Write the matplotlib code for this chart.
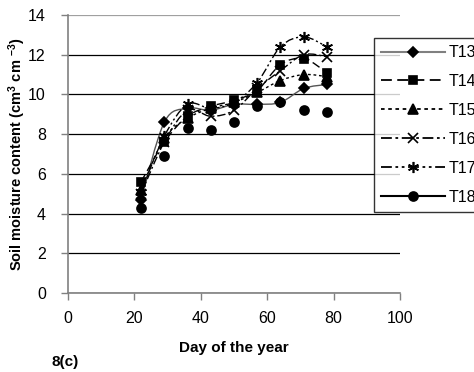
import numpy as np
import matplotlib
matplotlib.use('Agg')
import matplotlib.pyplot as plt
from matplotlib.path import Path
from matplotlib.patches import PathPatch
from matplotlib.lines import Line2D

plt.rcParams['font.family'] = ['Liberation Sans', 'DejaVu Sans']
plt.rcParams['mathtext.fontset'] = 'custom'
plt.rcParams['mathtext.rm'] = 'Liberation Sans:bold'
plt.rcParams['mathtext.default'] = 'rm'

days = [22, 29, 36, 43, 50, 57, 64, 71, 78]
t13 = [4.7, 8.6, 9.3, 9.2, 9.5, 9.5, 9.6, 10.3, 10.5]
t14 = [5.6, 7.6, 8.9, 9.4, 9.7, 10.2, 11.5, 11.8, 11.1]
t15 = [5.2, 7.8, 8.8, 9.3, 9.6, 10.1, 10.7, 11.0, 10.9]
t16 = [5.0, 7.6, 9.2, 8.9, 9.2, 10.3, 11.2, 12.0, 11.9]
t17 = [5.1, 7.9, 9.5, 9.3, 9.6, 10.6, 12.4, 12.9, 12.4]
t18 = [4.3, 6.9, 8.3, 8.2, 8.6, 9.4, 9.6, 9.2, 9.1]
labels = ['T13', 'T14', 'T15', 'T16', 'T17', 'T18']


def smooth_path(x, y):
    # Excel-like smoothed line: Catmull-Rom turned into cubic Bezier
    pts = np.column_stack([x, y]).astype(float)
    n = len(pts)
    verts = [pts[0]]
    codes = [Path.MOVETO]
    for i in range(n - 1):
        p0 = pts[max(i - 1, 0)]
        p1 = pts[i]
        p2 = pts[i + 1]
        p3 = pts[min(i + 2, n - 1)]
        verts += [p1 + (p2 - p0) / 6, p2 - (p3 - p1) / 6, p2]
        codes += [Path.CURVE4] * 3
    return Path(verts, codes)


series = [t13, t14, t15, t16, t17, t18]
styles = [
    dict(color='#555555', ls='-', marker='D', ms=5.5, draw_line=True),
    dict(color='black', ls=(0, (6, 3)), marker='s', ms=6, draw_line=True),
    dict(color='black', ls=(0, (2, 2)), marker='^', ms=6.5, draw_line=True),
    dict(color='black', ls=(0, (6, 2, 1.5, 2)), marker='x', ms=7, draw_line=True),
    dict(color='black', ls=(0, (6, 2, 1.5, 2, 1.5, 2)), marker=(6, 2, 0), ms=8, draw_line=True),
    dict(color='black', ls='-', marker='o', ms=6.5, draw_line=False),
]

fig = plt.figure(figsize=(4.74, 3.72), dpi=100)
ax = fig.add_axes([0.1435, 0.2124, 0.7004, 0.7473])

handles = []
for vals, st, lab in zip(series, styles, labels):
    if st['draw_line']:
        ax.add_patch(PathPatch(smooth_path(days, vals), fill=False,
                               edgecolor=st['color'], lw=1.0, ls=st['ls']))
    ax.plot(days, vals, ls='none', marker=st['marker'], ms=st['ms'],
            mfc='black', mec='black', mew=1.2)
    handles.append(Line2D([], [],
                          color='#808080' if lab == 'T13' else st['color'],
                          lw=1.5 if lab in ('T13', 'T18') else 1.3,
                          ls=st['ls'], marker=st['marker'], ms=st['ms'],
                          mfc='black', mec='black', mew=1.2))

ax.set_xlim(0, 100)
ax.set_ylim(0, 14)
ax.set_xticks(range(0, 101, 20))
ax.set_yticks(range(0, 15, 2))
ax.yaxis.grid(True, color='black', lw=0.9)
ax.get_ygridlines()[-1].set_color('#a0a0a0')
ax.set_axisbelow(True)
for s in ['top', 'right']:
    ax.spines[s].set_visible(False)
for s in ['left', 'bottom']:
    ax.spines[s].set_color('#808080')
    ax.spines[s].set_linewidth(1.2)
ax.tick_params(axis='both', direction='out', length=5, width=1,
               color='#808080', labelsize=11.5)
ax.tick_params(axis='x', pad=8)
ax.tick_params(axis='y', pad=11)

ax.set_xlabel('Day of the year', fontsize=11, fontweight='bold', labelpad=11)
ax.set_ylabel('Soil moisture content (cm$^3$ cm $^{-3}$)', fontsize=10.5,
              fontweight='bold')
ax.yaxis.set_label_coords(-0.12, 0.5)
fig.text(52 / 474, 1 - 362 / 372, '8(c)', fontsize=11, fontweight='bold',
         va='center', ha='left')

leg = fig.legend(handles, labels, loc='upper left',
                 bbox_to_anchor=(374 / 474, 1 - 38 / 372), frameon=True,
                 fontsize=11.5, handlelength=4.0, labelspacing=0.87,
                 borderaxespad=0, borderpad=0.45, handletextpad=0.2,
                 fancybox=False)
leg.get_frame().set_edgecolor('black')
leg.get_frame().set_linewidth(1.0)

fig.savefig('out.png', dpi=100)
